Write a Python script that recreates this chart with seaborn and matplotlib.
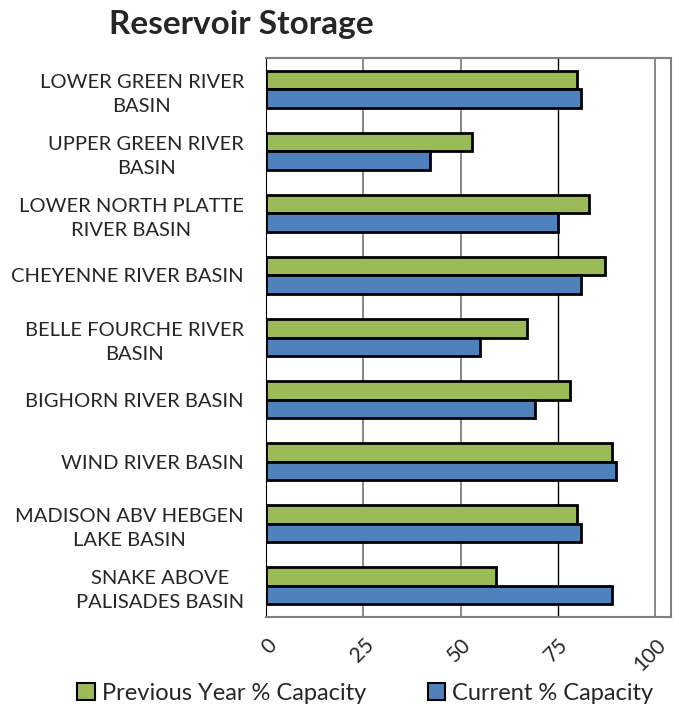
import matplotlib
matplotlib.use('Agg')
import matplotlib.pyplot as plt
from matplotlib.ticker import FixedLocator
from matplotlib.patches import Patch
import seaborn as sns
import pandas as pd

basins = [
    'LOWER GREEN RIVER\nBASIN',
    'UPPER GREEN RIVER\nBASIN',
    'LOWER NORTH PLATTE\nRIVER BASIN',
    'CHEYENNE RIVER BASIN',
    'BELLE FOURCHE RIVER\nBASIN',
    'BIGHORN RIVER BASIN',
    'WIND RIVER BASIN',
    'MADISON ABV HEBGEN\nLAKE BASIN',
    'SNAKE ABOVE\nPALISADES BASIN',
]
previous_year = [80, 53, 83, 87, 67, 78, 89, 80, 59]
current = [81, 42, 75, 81, 55, 69, 90, 81, 89]
series_names = ['Previous Year % Capacity', 'Current % Capacity']
x_ticks = [0, 25, 50, 75, 100]

df = pd.DataFrame({
    'Basin': basins * 2,
    'Series': [series_names[0]] * len(basins) + [series_names[1]] * len(basins),
    'Value': previous_year + current,
})

colors = {series_names[0]: '#9BBB59', series_names[1]: '#4F81BD'}

sns.set_style('white')
plt.rcParams['font.family'] = ['Lato', 'DejaVu Sans']

fig = plt.figure(figsize=(6.79, 7.19), dpi=100)
ax = fig.add_axes([0.392, 0.142, 0.596, 0.777])

sns.barplot(data=df, y='Basin', x='Value', hue='Series', hue_order=series_names,
            order=basins, palette=colors, orient='h', width=0.6, saturation=1,
            edgecolor='black', linewidth=2, ax=ax, legend=False)

ax.set_xlim(0, 104)
ax.set_ylim(len(basins) - 0.5, -0.5)
ax.xaxis.set_major_locator(FixedLocator(x_ticks))
ax.set_xticklabels([str(t) for t in x_ticks], rotation=45, ha='right', va='top',
                   rotation_mode='anchor', fontsize=15)
for t in x_ticks[1:]:
    if t == 75:
        ax.axvline(t, color='black', linewidth=1, zorder=0)
    else:
        ax.axvline(t, color='#808080', linewidth=1.3, zorder=0)

ax.set_yticks(range(len(basins)))
ax.set_yticklabels(basins, fontsize=14.5)
for lab in ax.get_yticklabels():
    lab.set_multialignment('center')
    lab.set_linespacing(1.5)
ax.tick_params(axis='y', length=0, pad=16)
ax.yaxis.set_minor_locator(FixedLocator([i - 0.5 for i in range(len(basins) + 1)]))
ax.tick_params(axis='y', which='minor', length=5, width=1, color='black', direction='out')
ax.tick_params(axis='x', length=5, width=1, color='black', direction='out', pad=8)
ax.set_xlabel('')
ax.set_ylabel('')

for side in ['top', 'right']:
    ax.spines[side].set_color('#808080')
    ax.spines[side].set_linewidth(1.5)
ax.spines['left'].set_color('black')
ax.spines['bottom'].set_color('#808080')
ax.spines['bottom'].set_linewidth(1.5)

fig.text(0.355, 0.966, 'Reservoir Storage', fontsize=24, fontweight='bold',
         ha='center', va='center')

handles = [Patch(facecolor=colors[n], edgecolor='black', linewidth=1.5, label=n)
           for n in series_names]
fig.legend(handles=handles, loc='center', bbox_to_anchor=(0.538, 0.036), ncol=2,
           frameon=False, fontsize=17, handlelength=0.75, handleheight=0.75,
           handletextpad=0.3, columnspacing=2.6)

fig.savefig('out.png', dpi=100)
